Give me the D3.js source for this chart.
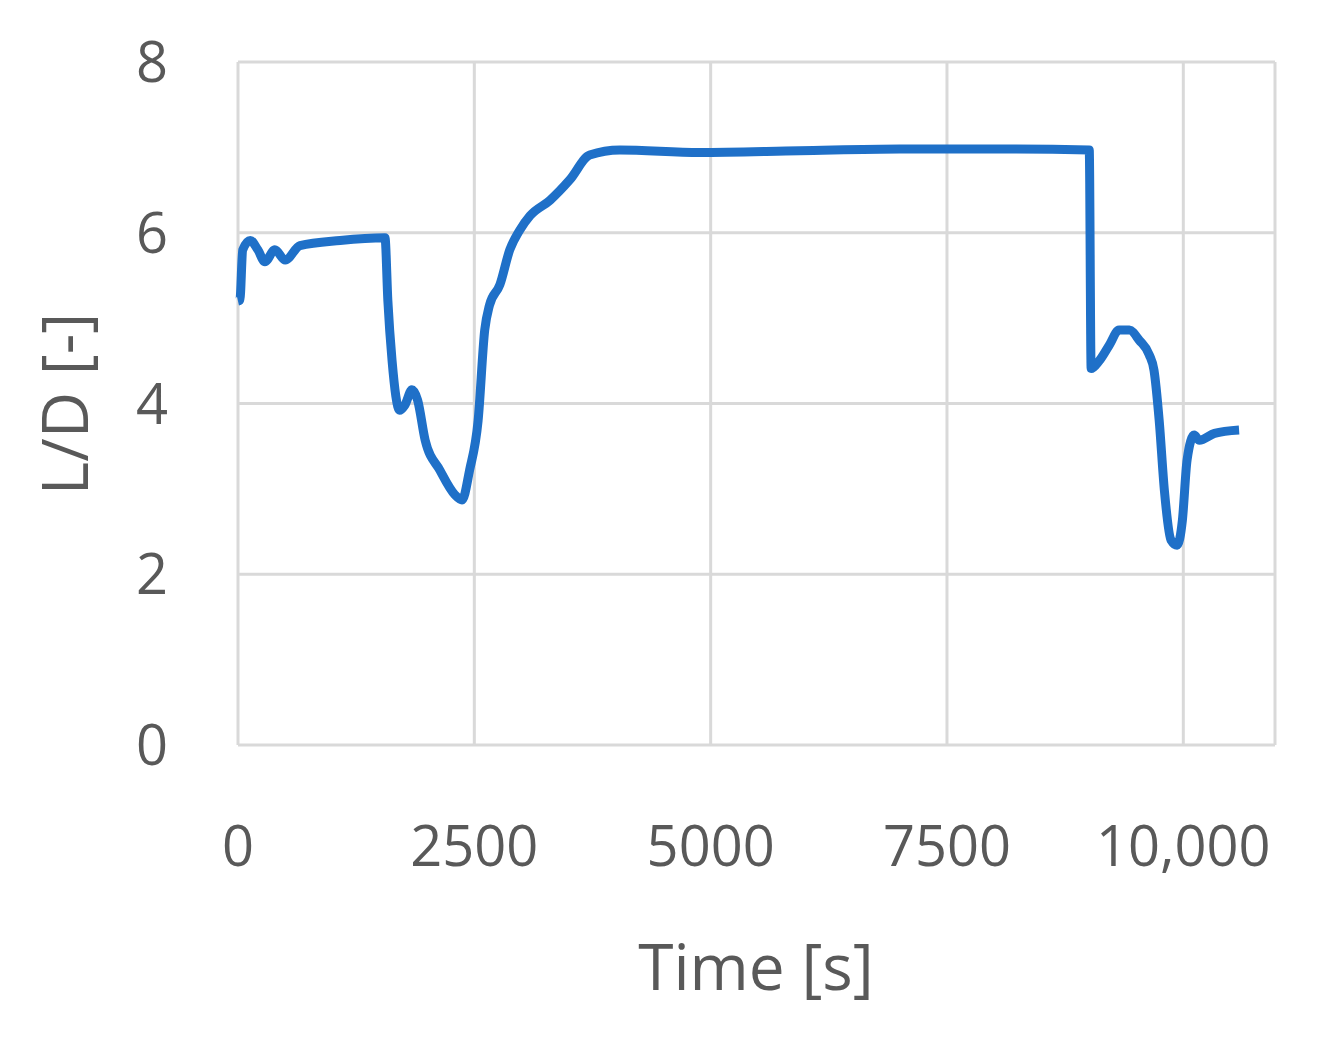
<!DOCTYPE html>
<html><head><meta charset="utf-8">
<script src="https://cdn.jsdelivr.net/npm/d3@7"></script>
<style>body{margin:0;background:#fff}</style></head>
<body><svg id="c" width="1324" height="1037"></svg>
<script>
const time=[0,20,50,130,210,285,390,500,655,1080,1555,1585,1630,1710,1765,1840,1900,1980,2135,2295,2370,2450,2540,2610,2660,2770,2875,2980,3090,3300,3510,3720,4040,4880,5940,7000,8055,9005,9025,9110,9215,9320,9430,9535,9640,9690,9745,9800,9870,9935,9990,10040,10115,10170,10330,10590];
const ld=[5.2,5.21,5.8,5.91,5.8,5.66,5.8,5.68,5.85,5.91,5.94,5.21,4.5,3.92,3.98,4.16,4.04,3.57,3.22,2.93,2.87,3.22,3.8,4.86,5.15,5.39,5.8,6.03,6.2,6.38,6.62,6.91,6.97,6.94,6.96,6.98,6.98,6.97,4.41,4.5,4.68,4.86,4.86,4.74,4.57,4.39,3.8,2.98,2.4,2.34,2.63,3.34,3.63,3.57,3.65,3.69];
const xTicks=[0,2500,5000,7500,10000];
const xTickLabels=["0","2500","5000","7500","10,000"];
const yTicks=[0,2,4,6,8];
const svg=d3.select("#c");
const x=d3.scaleLinear().domain([0,10970]).range([238,1275]);
const y=d3.scaleLinear().domain([0,8]).range([745,62]);
const grid="#d9d9d9", txt="#595959", font="'Open Sans', 'Liberation Sans', sans-serif";
svg.selectAll(".hg").data(yTicks).enter().append("line").attr("x1",238).attr("x2",1275)
 .attr("y1",d=>y(d)).attr("y2",d=>y(d)).attr("stroke",grid).attr("stroke-width",3);
svg.selectAll(".vg").data(xTicks).enter().append("line").attr("y1",62).attr("y2",745)
 .attr("x1",d=>x(d)).attr("x2",d=>x(d)).attr("stroke",grid).attr("stroke-width",3);
svg.append("line").attr("x1",1275).attr("x2",1275).attr("y1",62).attr("y2",745).attr("stroke",grid).attr("stroke-width",3);
svg.selectAll(".yl").data(yTicks).enter().append("text").attr("x",168).attr("y",d=>y(d)+20)
 .attr("text-anchor","end").attr("fill",txt).attr("font-family",font).attr("font-size",56).text(d=>d);
svg.selectAll(".xl").data(xTicks).enter().append("text").attr("x",d=>x(d)).attr("y",866)
 .attr("text-anchor","middle").attr("fill",txt).attr("font-family",font).attr("font-size",56).text((d,i)=>xTickLabels[i]);
svg.append("text").attr("x",756).attr("y",990).attr("text-anchor","middle").attr("fill",txt)
 .attr("font-family",font).attr("font-size",64).text("Time [s]");
svg.append("text").attr("transform","translate(88,404) rotate(-90)").attr("text-anchor","middle").attr("fill",txt)
 .attr("font-family",font).attr("font-size",64).text("L/D [-]");
const line=d3.line().x((d,i)=>x(time[i])).y(d=>y(d)).curve(d3.curveMonotoneX);
svg.append("path").attr("d",line(ld)).attr("fill","none").attr("stroke","#1f70c8").attr("stroke-width",9).attr("stroke-linejoin","round");
</script></body></html>
